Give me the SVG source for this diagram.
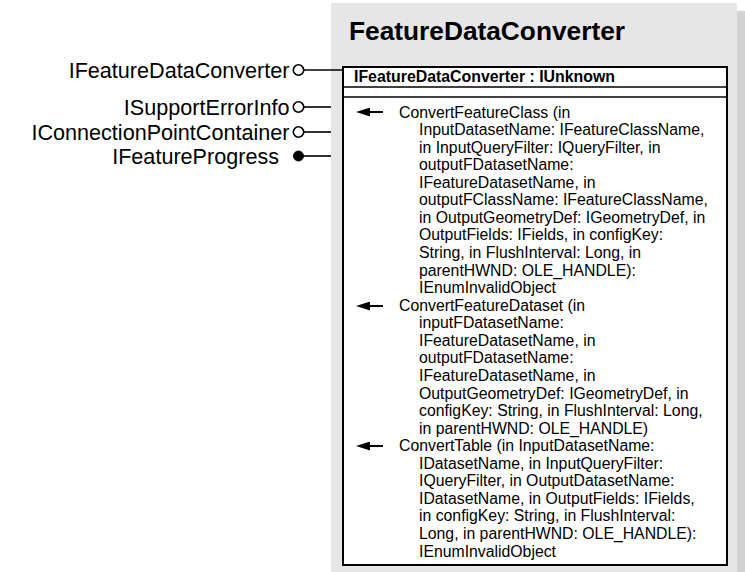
<svg xmlns="http://www.w3.org/2000/svg" width="745" height="572" viewBox="0 0 745 572">
<defs>
<style>
.lbl{font-family:"Liberation Sans",Arial,sans-serif;font-size:21.6px;fill:#000;text-anchor:end}
.title{font-family:"Liberation Sans",Arial,sans-serif;font-size:26px;font-weight:bold;fill:#000}
.hdr{font-family:"Liberation Sans",Arial,sans-serif;font-size:15.8px;font-weight:bold;fill:#000}
.m{font-family:"Liberation Sans",Arial,sans-serif;font-size:15.8px;fill:#000}
.ln{stroke:#000;stroke-width:1.6;fill:none}
.ring{stroke:#000;stroke-width:1.6;fill:#fff}
.dot{fill:#000;stroke:#000;stroke-width:1}
.arr{stroke:#000;stroke-width:2;fill:none}
</style>
<marker id="ah" viewBox="0 0 14 9" refX="0" refY="4.5" markerWidth="14" markerHeight="9" markerUnits="userSpaceOnUse" orient="auto-start-reverse">
<path d="M0,0 L14,4.5 L0,9 Z" fill="#000"/>
</marker>
</defs>
<g id="panel">
<rect x="339" y="11" width="406" height="570" fill="#d2d2d2"/>
<rect x="331" y="3" width="406" height="570" fill="#e6e6e6"/>
<text class="title" x="349" y="40" textLength="276" lengthAdjust="spacingAndGlyphs">FeatureDataConverter</text>
</g>
<g id="class-box">
<rect x="343" y="67" width="384" height="498" fill="#fff" stroke="#000" stroke-width="2"/>
<line class="ln" x1="343" y1="87" x2="727" y2="87"/>
<line class="ln" x1="343" y1="97" x2="727" y2="97"/>
<text class="hdr" x="354" y="82" textLength="261" lengthAdjust="spacingAndGlyphs">IFeatureDataConverter : IUnknown</text>
</g>
<g id="methods">
<line class="arr" x1="383" y1="112" x2="370" y2="112" marker-end="url(#ah)"/>
<line class="arr" x1="383" y1="306" x2="370" y2="306" marker-end="url(#ah)"/>
<line class="arr" x1="383" y1="446" x2="370" y2="446" marker-end="url(#ah)"/>
<text class="m" x="399" y="117.5">ConvertFeatureClass (in</text>
<text class="m" x="419" y="135.1">InputDatasetName: IFeatureClassName,</text>
<text class="m" x="419" y="152.6">in InputQueryFilter: IQueryFilter, in</text>
<text class="m" x="419" y="170.2">outputFDatasetName:</text>
<text class="m" x="419" y="187.7">IFeatureDatasetName, in</text>
<text class="m" x="419" y="205.3">outputFClassName: IFeatureClassName,</text>
<text class="m" x="419" y="222.9">in OutputGeometryDef: IGeometryDef, in</text>
<text class="m" x="419" y="240.4">OutputFields: IFields, in configKey:</text>
<text class="m" x="419" y="258.0">String, in FlushInterval: Long, in</text>
<text class="m" x="419" y="275.5">parentHWND: OLE_HANDLE):</text>
<text class="m" x="419" y="293.1">IEnumInvalidObject</text>
<text class="m" x="399" y="310.7">ConvertFeatureDataset (in</text>
<text class="m" x="419" y="328.2">inputFDatasetName:</text>
<text class="m" x="419" y="345.8">IFeatureDatasetName, in</text>
<text class="m" x="419" y="363.3">outputFDatasetName:</text>
<text class="m" x="419" y="380.9">IFeatureDatasetName, in</text>
<text class="m" x="419" y="398.5">OutputGeometryDef: IGeometryDef, in</text>
<text class="m" x="419" y="416.0">configKey: String, in FlushInterval: Long,</text>
<text class="m" x="419" y="433.6">in parentHWND: OLE_HANDLE)</text>
<text class="m" x="399" y="451.1">ConvertTable (in InputDatasetName:</text>
<text class="m" x="419" y="468.7">IDatasetName, in InputQueryFilter:</text>
<text class="m" x="419" y="486.3">IQueryFilter, in OutputDatasetName:</text>
<text class="m" x="419" y="503.8">IDatasetName, in OutputFields: IFields,</text>
<text class="m" x="419" y="521.4">in configKey: String, in FlushInterval:</text>
<text class="m" x="419" y="538.9">Long, in parentHWND: OLE_HANDLE):</text>
<text class="m" x="419" y="556.5">IEnumInvalidObject</text>
</g>
<g id="connectors">
<line class="ln" x1="304" y1="70" x2="343" y2="70"/>
<line class="ln" x1="304" y1="107" x2="331" y2="107"/>
<line class="ln" x1="304" y1="132" x2="331" y2="132"/>
<line class="ln" x1="304" y1="156" x2="331" y2="156"/>
</g>
<g id="iface-IFeatureDataConverter">
<circle class="ring" cx="298.5" cy="70" r="5.2"/>
<text class="lbl" x="289.5" y="77.5">IFeatureDataConverter</text>
</g>
<g id="iface-ISupportErrorInfo">
<circle class="ring" cx="298.5" cy="107" r="5.2"/>
<text class="lbl" x="289.5" y="114.5">ISupportErrorInfo</text>
</g>
<g id="iface-IConnectionPointContainer">
<circle class="ring" cx="298.5" cy="132" r="5.2"/>
<text class="lbl" x="289.5" y="139.5">IConnectionPointContainer</text>
</g>
<g id="iface-IFeatureProgress">
<circle class="dot" cx="298.5" cy="156" r="5"/>
<text class="lbl" x="279" y="163.5">IFeatureProgress</text>
</g>
</svg>
